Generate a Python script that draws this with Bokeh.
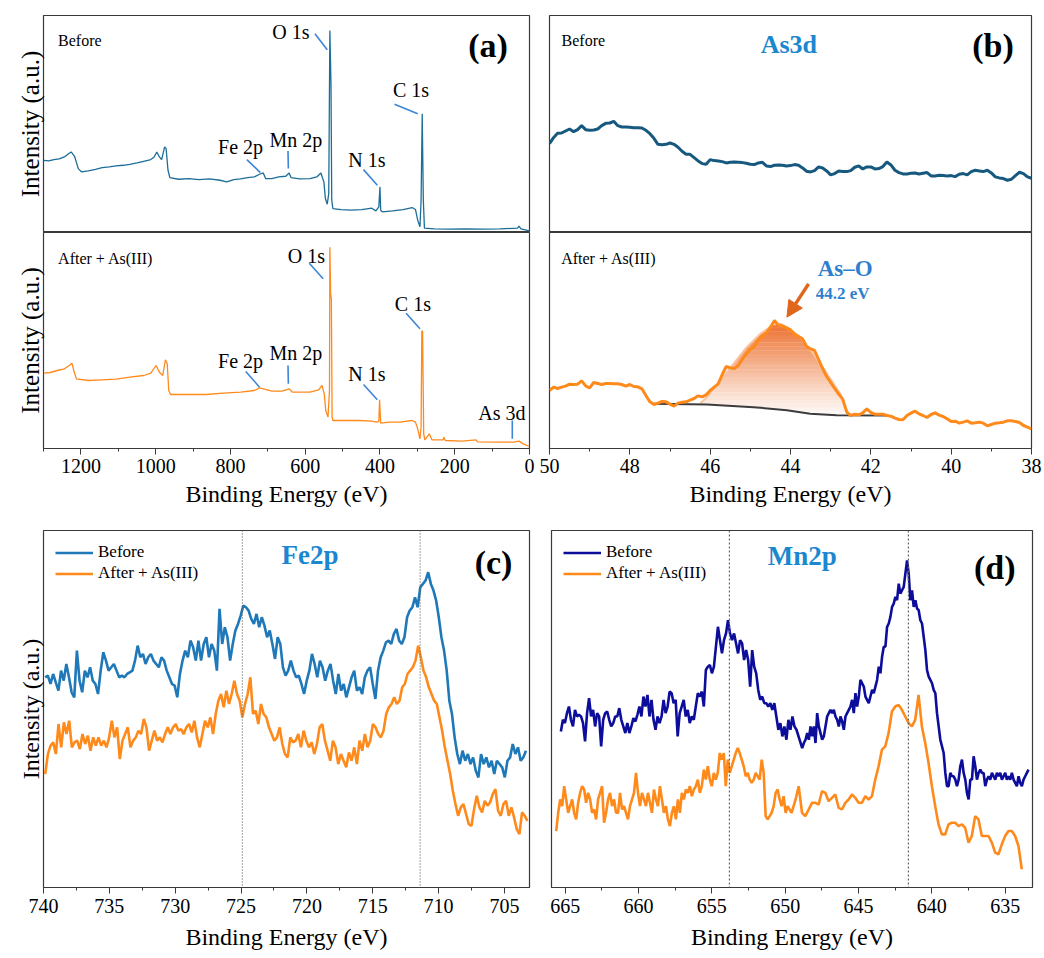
import numpy as np
from bokeh.plotting import figure
from bokeh.models import Range1d, SingleIntervalTicker, FixedTicker, Label, Span, Arrow, NormalHead
from bokeh.layouts import column, row
from bokeh.embed import file_html
from bokeh.resources import INLINE

FONT = "Liberation Serif"
FRAME = "#3a3a3a"
ORANGE = "#ff8a1c"
POINTER = "#3d85d6"
TITLE_BLUE = "#1a87cf"

# ---------------- data: (a) survey spectra ----------------
survey_before_be = [1300, 1286, 1272, 1258, 1244, 1235, 1226, 1217, 1207, 1198,
                    1180, 1161, 1143, 1124, 1106, 1087, 1069, 1050, 1032, 1013,
                    1004, 997, 990, 984, 976, 972, 967, 962, 939, 911,
                    884, 856, 828, 810, 791, 773, 754, 736, 722, 712,
                    706, 689, 671, 652, 643, 638, 615, 587, 569, 558,
                    550, 546, 541, 537, 534, 531, 529, 526, 504, 477,
                    449, 422, 411, 403, 400, 398, 394, 366, 338, 314,
                    305, 299, 293, 290, 287, 284, 281, 254, 217, 171,
                    125, 79, 32, 28, 23, 0]
survey_before_int = [217, 215, 219, 221, 227, 235, 242, 229, 192, 182,
                     185, 190, 195, 197, 200, 202, 205, 209, 214, 219,
                     227, 242, 227, 219, 257, 252, 187, 165, 160, 162,
                     159, 161, 157, 152, 159, 161, 165, 167, 175, 179,
                     162, 162, 167, 169, 179, 165, 161, 162, 167, 179,
                     152, 102, 85, 117, 607, 447, 97, 72, 69, 67,
                     69, 73, 65, 77, 137, 67, 62, 65, 69, 75,
                     69, 37, 17, 97, 357, 97, 13, 11, 10, 11,
                     10, 11, 13, 19, 11, 5]
survey_after_be = [1300, 1282, 1263, 1244, 1231, 1224, 1219, 1212, 1180, 1143,
                   1106, 1069, 1032, 1013, 999, 990, 981, 974, 969, 965,
                   960, 921, 865, 819, 773, 736, 722, 712, 689, 662,
                   643, 634, 587, 564, 555, 549, 545, 539, 535, 534,
                   532, 530, 528, 526, 495, 458, 422, 408, 403, 401,
                   398, 375, 347, 314, 305, 299, 293, 290, 288, 286,
                   283, 280, 268, 261, 231, 229, 225, 181, 143, 139,
                   88, 42, 28, 17, 0]
survey_after_int = [226, 228, 234, 239, 249, 256, 234, 209, 204, 206,
                    208, 214, 219, 226, 249, 229, 219, 266, 254, 174,
                    162, 162, 162, 166, 169, 174, 182, 179, 172, 172,
                    179, 169, 169, 176, 189, 164, 114, 94, 174, 604,
                    464, 449, 94, 84, 84, 84, 82, 79, 82, 146,
                    76, 79, 79, 84, 79, 59, 29, 64, 352, 352,
                    44, 26, 44, 26, 26, 34, 24, 22, 26, 20,
                    19, 19, 22, 14, 6]

survey_labels_before = ["O 1s", "C 1s", "N 1s", "Fe 2p", "Mn 2p"]
survey_lab_be_before = [638, 317, 435, 773, 625]
survey_lab_int_before = [602, 429, 219, 257, 277]
survey_ptr_before = {"x0": [574, 361, 444, 756, 646], "y0": [597, 385, 189, 219, 245],
                     "x1": [541, 299, 407, 720, 645], "y1": [549, 357, 142, 180, 192]}
survey_labels_after = ["O 1s", "C 1s", "N 1s", "Fe 2p", "Mn 2p", "As 3d"]
survey_lab_be_after = [597, 312, 435, 773, 625, 74]
survey_lab_int_after = [579, 434, 224, 262, 286, 106]
survey_ptr_after = {"x0": [589, 330, 444, 759, 646, 46], "y0": [556, 406, 192, 231, 249, 84],
                    "x1": [552, 293, 407, 722, 645, 46], "y1": [509, 359, 146, 184, 194, 29]}

# ---------------- data: (b) As 3d ----------------
as3d_start, as3d_end = 50.0, 38.0
as3d_before = [267, 285, 298, 299, 305, 311, 303, 309, 321, 309,
               307, 308, 311, 321, 328, 329, 334, 321, 317, 317,
               316, 315, 315, 314, 307, 297, 283, 265, 264, 265,
               269, 265, 256, 244, 235, 235, 225, 215, 207, 205,
               219, 216, 215, 213, 209, 211, 212, 211, 210, 208,
               205, 204, 209, 211, 200, 198, 202, 203, 202, 200,
               201, 204, 202, 194, 184, 182, 186, 197, 194, 185,
               173, 177, 185, 183, 183, 186, 196, 200, 191, 197,
               197, 191, 192, 198, 212, 203, 187, 180, 176, 176,
               178, 179, 176, 178, 180, 170, 170, 172, 171, 170,
               171, 168, 175, 177, 173, 183, 187, 185, 183, 187,
               179, 167, 164, 162, 157, 160, 171, 181, 177, 167,
               163]
as3d_after = [174, 184, 180, 184, 187, 193, 192, 193, 203, 188,
              182, 198, 195, 192, 195, 195, 194, 194, 192, 187,
              192, 186, 185, 179, 159, 140, 132, 136, 141, 140,
              133, 127, 136, 139, 140, 145, 150, 158, 155, 161,
              174, 184, 194, 222, 246, 242, 240, 249, 268, 284,
              298, 306, 325, 336, 347, 364, 384, 370, 368, 362,
              356, 343, 336, 329, 306, 299, 294, 267, 240, 216,
              198, 180, 163, 148, 109, 99, 103, 101, 107, 119,
              108, 103, 103, 103, 99, 97, 91, 87, 86, 99,
              106, 112, 104, 99, 93, 102, 107, 100, 96, 89,
              81, 82, 76, 79, 83, 76, 77, 79, 76, 68,
              72, 76, 77, 79, 83, 83, 81, 78, 69, 64,
              59]
as_base_be = [47.41, 46.08, 44.92, 44.09, 43.51, 42.85, 41.60]
as_base_int = [134, 132, 124, 115, 104, 100, 99]
as_fit_be = [46.25, 46.08, 45.75, 45.42, 45.09, 44.75, 44.42, 44.25, 44.09, 43.76, 43.43, 43.09, 42.76, 42.55]
as_fit_int = [135, 154, 204, 254, 304, 344, 372, 374, 364, 334, 284, 224, 164, 101]
as_fit_base = [132, 132, 131, 129, 127, 124, 120, 118, 115, 110, 105, 102, 100, 100]
as_o_peak = 44.2

# ---------------- data: (c) Fe 2p ----------------
fe_before_start, fe_before_end = 739.87, 703.37
fe_after_start, fe_after_end = 739.87, 703.26
fe_before = [590, 595, 570, 600, 575, 550, 610, 580, 630, 590,
             545, 530, 670, 580, 545, 610, 590, 620, 580, 570,
             540, 610, 665, 640, 610, 620, 630, 610, 590, 595,
             590, 600, 605, 610, 640, 685, 650, 660, 630, 650,
             660, 640, 630, 620, 650, 640, 610, 590, 570, 565,
             530, 600, 640, 670, 650, 700, 680, 640, 700, 640,
             690, 710, 650, 690, 670, 610, 795, 690, 740, 710,
             640, 690, 730, 750, 775, 805, 800, 790, 765, 750,
             780, 740, 770, 745, 710, 730, 690, 645, 710, 690,
             620, 595, 610, 640,
             610, 590, 595, 570, 540, 580, 610, 660, 630,
             590, 640, 620, 580, 610, 630, 580, 540, 600, 550,
             570, 530, 560, 590, 610, 550, 560, 540, 590, 610,
             620, 570, 525, 610, 650, 670, 695, 700, 690, 720,
             735, 700, 690, 710, 770, 790, 800, 830, 800, 860,
             870, 880, 905, 870, 850, 820, 770, 710, 670, 610,
             520, 480, 410, 360, 330, 370, 340, 360, 330, 350,
             310, 290, 360, 330, 350, 320, 340, 300, 340, 330,
             320, 290, 340, 350, 390, 360, 380, 340, 350, 370]
fe_after = [300, 360, 385, 395, 360, 450, 380, 455, 420, 460,
            380, 395, 400, 375, 420, 390, 415, 370, 410, 385,
            410, 385, 400, 380, 410, 460, 410, 440, 345, 400,
            420, 440, 380, 400, 410, 430, 420, 465, 440, 370,
            400, 430, 400, 410, 395, 420, 440, 420, 440, 450,
            430, 435, 420, 440, 450, 425, 460, 410, 380, 420,
            460, 440, 470, 420, 480, 520, 540, 500, 550, 510,
            540, 580, 540, 520, 470, 510, 540, 590, 480, 490,
            450, 510, 480, 470, 440, 420, 400, 410, 440, 390,
            360, 350,
            410, 395, 400, 420, 380, 430, 400, 380, 395, 360,
            390, 440, 450, 400, 370, 340, 400, 380, 330, 360,
            340, 320, 365, 340, 380, 330, 400, 370, 420, 380,
            400, 450, 440, 420, 410, 430, 480, 500, 510, 530,
            510, 520, 560, 570, 600, 610, 620, 640, 685, 650,
            610, 590, 560, 540, 520, 510, 470, 430, 380, 340,
            300, 250, 210, 175, 200, 210, 180, 150, 145, 195,
            235, 200, 185, 220, 205, 215, 240, 255, 190, 175,
            210, 220, 175, 200, 170, 135, 120, 185, 175, 160]
fe_peak_lines = [724.9, 711.4]

# ---------------- data: (d) Mn 2p ----------------
mn_before_seg = [(665.29, 649.23), (648.84, 633.41)]
mn_after_seg = [(665.61, 649.29), (649.08, 633.87)]
mn_before_left = [425, 460, 450, 480, 500, 460, 440, 490, 470, 475,
                  470, 450, 395, 480, 525, 470, 490, 440, 480, 470,
                  380, 460, 480, 485, 460, 440, 450, 470, 470, 495,
                  460, 440, 420, 450, 420, 440, 465, 455, 475, 500,
                  470, 530, 500, 535, 470, 520, 460, 430, 470, 450,
                  470, 520, 480, 500, 545, 540, 510, 520, 410, 480,
                  500, 520, 470, 490, 450, 470, 460, 500, 540, 530,
                  545, 500, 610, 620, 625, 600, 620, 680, 740, 700,
                  660, 700, 720, 760, 720, 700, 720, 690, 660, 700,
                  690, 640, 670, 640, 560, 670, 620, 600, 550, 520,
                  530, 510, 510, 500, 510, 490, 510, 470, 430, 450,
                  410, 440, 400, 460, 430, 470, 440, 430]
mn_before_right = [375, 390, 400, 420, 400, 440, 410, 440, 390, 480,
                   440, 420, 400, 410, 440, 470, 480, 490, 480, 490,
                   470, 460, 440, 470, 455, 430, 470, 480, 490, 500,
                   520, 480, 540, 500, 530, 580, 570, 560, 530, 520,
                   510, 530, 550, 540, 560, 580, 620, 600, 650, 680,
                   680, 740, 750, 770, 800, 810, 830, 820, 870, 840,
                   850, 860, 900, 940, 900, 820, 850, 800, 820, 795,
                   790, 760, 750, 710, 670, 610, 590, 580, 570, 550,
                   540, 480, 440, 400, 380, 360, 300, 260, 260, 300,
                   290, 290, 280, 260, 280, 320, 340, 300, 280, 240,
                   220, 280, 280, 350, 320, 280, 300, 310, 300, 300,
                   260, 280, 290, 280, 300, 290, 280, 300, 290, 300,
                   280, 290, 300, 280, 290, 280, 300, 280, 270, 260,
                   290, 270, 260, 280, 290, 300, 310]
mn_after_left = [125, 180, 220, 200, 260, 220, 180, 200, 220, 180,
                 160, 210, 240, 260, 250, 210, 240, 220, 180, 190,
                 160, 220, 240, 260, 150, 180, 220, 240, 200, 220,
                 180, 180, 240, 190, 200, 180, 160, 200, 220, 240,
                 300, 240, 200, 240, 220, 200, 240, 210, 180, 250,
                 220, 200, 260, 220, 180, 200, 160, 140, 180, 200,
                 160, 220, 180, 240, 220, 250, 240, 260, 230, 250,
                 260, 280, 240, 260, 310, 280, 320, 280, 260, 300,
                 280, 300, 360, 340, 360, 260, 340, 300, 320, 340,
                 360, 375, 360, 340, 320, 290, 300, 280, 270, 280,
                 300, 290, 280, 340, 300, 170, 160, 170, 180, 200,
                 240, 250, 220, 200, 230, 180, 200, 190, 180, 200,
                 220]
mn_after_right = [260, 180, 170, 190, 210, 210, 205,
                  245, 240, 215, 225, 235, 195, 190, 210, 220, 235,
                  225, 210, 210, 230, 220, 230, 280, 320, 370, 380,
                  420, 485, 500, 505, 490, 470, 450, 440, 460, 535,
                  440, 390, 330, 260, 200, 145, 115, 115, 145, 150,
                  150, 140, 145, 135, 90, 110, 170, 160, 110, 110,
                  110, 90, 60, 55, 85, 110, 125, 125, 110, 80,
                  10]
mn_peak_lines = [653.8, 641.6]


# ---------------- helpers ----------------
def base_fig(width, height, xr, yr, borders, show_x=True, ylabel=None, ylabel_size="25px"):
    l, r, t, b = borders
    p = figure(width=width, height=height, x_range=Range1d(*xr), y_range=Range1d(*yr),
               output_backend="svg", toolbar_location=None,
               x_axis_location="below" if show_x else None,
               y_axis_location="left" if ylabel else None,
               min_border_left=l, min_border_right=r, min_border_top=t, min_border_bottom=b)
    for g in p.xgrid + p.ygrid:
        g.visible = False
    p.outline_line_color = FRAME
    p.outline_line_width = 1.2
    p.outline_line_alpha = 1.0
    p.background_fill_color = "white"
    p.border_fill_color = "white"
    if ylabel:
        ax = p.yaxis[0]
        ax.ticker = FixedTicker(ticks=[])
        ax.axis_label = ylabel
        ax.axis_label_text_font = FONT
        ax.axis_label_text_font_size = ylabel_size
        ax.axis_label_text_font_style = "normal"
        ax.axis_label_text_color = "black"
        ax.axis_label_standoff = 0
        ax.major_label_standoff = 0
        ax.axis_line_color = None
        ax.major_tick_line_color = None
        ax.minor_tick_line_color = None
        ax.major_label_text_font_size = "0px"
    return p


def style_x(p, interval, label_standoff, axis_standoff):
    ax = p.xaxis[0]
    ax.ticker = SingleIntervalTicker(interval=interval, num_minor_ticks=2)
    ax.axis_label = "Binding Energy (eV)"
    ax.axis_label_text_font = FONT
    ax.axis_label_text_font_size = "24px"
    ax.axis_label_text_font_style = "normal"
    ax.axis_label_text_color = "black"
    ax.axis_label_standoff = axis_standoff
    ax.major_label_text_font = FONT
    ax.major_label_text_font_size = "20px"
    ax.major_label_text_color = "black"
    ax.major_label_standoff = label_standoff
    ax.axis_line_color = FRAME
    ax.axis_line_width = 1.2
    ax.major_tick_line_color = FRAME
    ax.minor_tick_line_color = FRAME
    ax.major_tick_out = 6
    ax.major_tick_in = 0
    ax.minor_tick_out = 3
    ax.minor_tick_in = 0


def add_text(p, x, y, text, size, align="left", color="black", bold=False):
    p.add_layout(Label(x=x, y=y, text=text, text_font=FONT, text_font_size=size,
                       text_align=align, text_baseline="middle", text_color=color,
                       text_font_style="bold" if bold else "normal"))


def seg_x(segments, parts):
    return np.concatenate([np.linspace(s, e, len(v)) for (s, e), v in zip(segments, parts)])


# ---------------- (a) survey ----------------
a_top = base_fig(539, 232, (1300, 0), (0, 652), (43, 10, 15, 0), show_x=False, ylabel="Intensity (a.u.)")
a_top.line(survey_before_be, survey_before_int, line_color="#1c6e98", line_width=1.3)
a_top.segment(x0=survey_ptr_before["x0"], y0=survey_ptr_before["y0"],
              x1=survey_ptr_before["x1"], y1=survey_ptr_before["y1"], line_color=POINTER, line_width=1.6)
for t, x, y in zip(survey_labels_before, survey_lab_be_before, survey_lab_int_before):
    add_text(a_top, x, y, t, "20px", align="center")
add_text(a_top, 1261, 577, "Before", "16px")
add_text(a_top, 58, 562, "(a)", "34px", align="right", bold=True)

a_bot = base_fig(539, 286, (1300, 0), (0, 648), (43, 10, 0, 70), show_x=True, ylabel="Intensity (a.u.)")
style_x(a_bot, 200, 4, 5)
a_bot.line(survey_after_be, survey_after_int, line_color=ORANGE, line_width=1.3)
a_bot.segment(x0=survey_ptr_after["x0"], y0=survey_ptr_after["y0"],
              x1=survey_ptr_after["x1"], y1=survey_ptr_after["y1"], line_color=POINTER, line_width=1.6)
for t, x, y in zip(survey_labels_after, survey_lab_be_after, survey_lab_int_after):
    add_text(a_bot, x, y, t, "20px", align="center")
add_text(a_bot, 1261, 569, "After + As(III)", "16px")

# ---------------- (b) As 3d ----------------
as3d_be = np.linspace(as3d_start, as3d_end, len(as3d_before))
as3d_be2 = np.linspace(as3d_start, as3d_end, len(as3d_after))

b_top = base_fig(505, 232, (50, 38), (0, 652), (10, 13, 15, 0), show_x=False)
b_top.line(as3d_be, as3d_before, line_color="#17587f", line_width=3)
add_text(b_top, 49.70, 577, "Before", "16px")
add_text(b_top, 44.04, 565, "As3d", "26px", align="center", color=TITLE_BLUE, bold=True)
add_text(b_top, 38.44, 562, "(b)", "34px", align="right", bold=True)

b_bot = base_fig(505, 286, (50, 38), (0, 648), (10, 13, 0, 70), show_x=True)
style_x(b_bot, 2, 4, 5)
# gradient fill of the As-O component: horizontal colour bands (rendering only)
gx = np.linspace(as_fit_be[0], as_fit_be[-1], 240)
g_top = np.interp(gx, as_fit_be[::-1], as_fit_int[::-1])
g_bot = np.interp(gx, as_fit_be[::-1], as_fit_base[::-1])
n_bands = 24
lo_all, hi_all = min(as_fit_base), max(as_fit_int)
h = (hi_all - lo_all) / n_bands
c_top = np.array([236, 104, 36])
for k in range(n_bands):
    lo = lo_all + k * h
    hi = lo + h + 0.6
    y1 = np.maximum(g_bot, lo)
    y2 = np.maximum(np.minimum(g_top, hi), y1)
    t = 0.03 + 0.92 * ((k + 0.5) / n_bands) ** 1.1
    col = (255 + (c_top - 255) * t).astype(int)
    b_bot.varea(x=gx, y1=y1, y2=y2, fill_color="#%02x%02x%02x" % tuple(col), fill_alpha=1.0)
b_bot.line(as_fit_be, as_fit_int, line_color="#f8c49f", line_width=2)
b_bot.line(as_base_be, as_base_int, line_color="#3c3c3c", line_width=2)
b_bot.line(as3d_be2, as3d_after, line_color=ORANGE, line_width=3)
b_bot.add_layout(Arrow(end=NormalHead(size=16, fill_color="#e0661c", line_color="#e0661c"),
                       x_start=43.55, y_start=494, x_end=44.09, y_end=394,
                       line_color="#e0661c", line_width=3.5))
add_text(b_bot, 49.71, 569, "After + As(III)", "16px")
add_text(b_bot, 42.64, 539, "As\u2013O", "23px", align="center", color="#2f7fd0", bold=True)
add_text(b_bot, 42.70, 464, "%.1f eV" % as_o_peak, "17px", align="center", color="#2f7fd0", bold=True)

# ---------------- (c) Fe 2p ----------------
fe_be = np.linspace(fe_before_start, fe_before_end, len(fe_before))
fe_be2 = np.linspace(fe_after_start, fe_after_end, len(fe_after))
c = base_fig(539, 440, (740, 703.1), (-40, 1030), (43, 10, 12, 71), show_x=True,
             ylabel="Intensity (a.u.)", ylabel_size="24px")
style_x(c, 5, 5, 8)
for loc in fe_peak_lines:
    c.add_layout(Span(location=loc, dimension="height", line_color="#666666",
                      line_dash="1 2", line_width=1.2))
c.line(fe_be, fe_before, line_color="#1f78b8", line_width=2.6, legend_label="Before")
c.line(fe_be2, fe_after, line_color=ORANGE, line_width=2.6, legend_label="After + As(III)")
add_text(c, 719.76, 957, "Fe2p", "27px", align="center", color=TITLE_BLUE, bold=True)
add_text(c, 704.4, 935, "(c)", "34px", align="right", bold=True)

# ---------------- (d) Mn 2p ----------------
mn_be = seg_x(mn_before_seg, [mn_before_left, mn_before_right])
mn_be2 = seg_x(mn_after_seg, [mn_after_left, mn_after_right])
d = base_fig(505, 440, (665.93, 633.14), (-45, 1030), (12, 12, 12, 71), show_x=True)
style_x(d, 5, 5, 8)
for loc in mn_peak_lines:
    d.add_layout(Span(location=loc, dimension="height", line_color="#666666",
                      line_dash="2 2", line_width=1.2))
d.line(mn_be, mn_before_left + mn_before_right, line_color="#0d0d9c", line_width=2.6, legend_label="Before")
d.line(mn_be2, mn_after_left + mn_after_right, line_color=ORANGE, line_width=2.6, legend_label="After + As(III)")
add_text(d, 648.84, 952, "Mn2p", "27px", align="center", color=TITLE_BLUE, bold=True)
add_text(d, 634.3, 918, "(d)", "34px", align="right", bold=True)

for p in (c, d):
    lg = p.legend[0]
    lg.location = "top_left"
    lg.margin = 12
    lg.padding = 8
    lg.spacing = 1
    lg.border_line_color = None
    lg.background_fill_alpha = 0
    lg.label_text_font = FONT
    lg.label_text_font_size = "17px"
    lg.label_text_color = "black"
    lg.glyph_width = 38
    lg.glyph_height = 19
    lg.label_height = 19
    lg.label_standoff = 5

layout = column(row(column(a_top, a_bot), column(b_top, b_bot)), row(c, d))
open("out.html", "w").write(file_html(layout, INLINE))
